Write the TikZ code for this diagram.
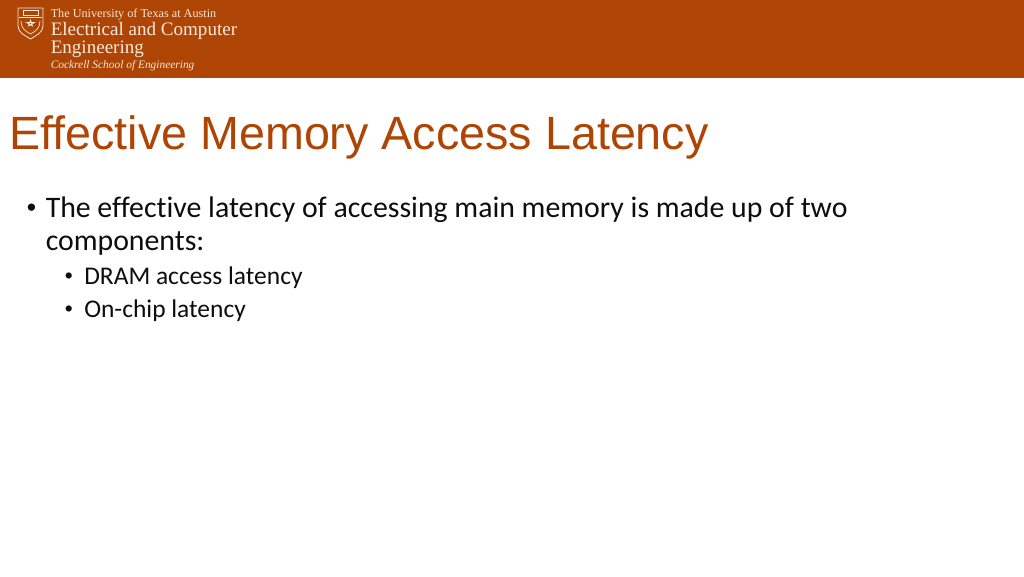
\documentclass[tikz,border=0pt]{standalone}
\usepackage{fontspec}
\setmainfont{Liberation Serif}
\newfontfamily\arialf{Liberation Sans}
\newfontfamily\calib[Ligatures=NoCommon,Kerning=On]{Carlito}
\definecolor{ut}{HTML}{AE4504}
\definecolor{cream}{HTML}{F7E9DC}
\tikzset{hdr/.style={anchor=base west,inner sep=0,text=cream,font=\rmfamily},
body/.style={anchor=base west,inner sep=0,text=black!95}}
\begin{document}
\begin{tikzpicture}[x=1pt,y=-1pt,scale=0.75]
\useasboundingbox (0,0) rectangle (1024,576);
\fill[white] (0,0) rectangle (1024,576);
\fill[ut] (0,0) rectangle (1024,78);
% shield
\draw[cream,line width=0.6pt] (18,8) -- (43,8) -- (43,26) .. controls (43,33) and (35,36) .. (30.5,39) .. controls (26,36) and (18,33) .. (18,26) -- cycle;
\draw[cream,line width=0.4pt] (19,17) -- (42,17);
\draw[cream,line width=0.5pt] (23,10.5) rectangle (38,15);
\draw[cream,line width=0.5pt] (30.5,20) -- (32.5,26) -- (26.5,22.5) -- (34.5,22.5) -- (28.5,26) -- cycle;
\draw[cream,line width=0.5pt] (21,21) .. controls (21,28) and (25,31) .. (30.5,34) .. controls (36,31) and (40,28) .. (40,21);
\node[hdr,font=\fontsize{9.15}{10}\selectfont] (t1) at (50.5,17) {The University of Texas at Austin};
\node[hdr,font=\fontsize{14.3}{14}\selectfont] (t2) at (50.5,35) {Electrical and Computer};
\node[hdr,font=\fontsize{14.3}{14}\selectfont] (t3) at (50.5,53.5) {Engineering};
\node[hdr,font=\itshape\fontsize{8.55}{10}\selectfont] (t4) at (50.5,68) {Cockrell School of Engineering};
\node[anchor=base west,inner sep=0,text=ut,font=\arialf\fontsize{35}{40}\selectfont] (title) at (9,149) {Effective Memory Access Latency};
\node[body,font=\arialf\fontsize{20}{18}\selectfont] (b1) at (26.5,216) {•};
\node[body,font=\calib\fontsize{22.35}{26}\selectfont] (l1) at (45.5,217) {The effective latency of accessing main memory is made up of two};
\node[body,font=\calib\fontsize{22.35}{26}\selectfont] (l2) at (45.5,250) {components:};
\node[body,font=\arialf\fontsize{17}{18}\selectfont] (b2) at (64.5,283) {•};
\node[body,font=\calib\fontsize{19.1}{22}\selectfont] (l3) at (84,284) {DRAM access latency};
\node[body,font=\arialf\fontsize{17}{18}\selectfont] (b3) at (64.5,316) {•};
\node[body,font=\calib\fontsize{19.1}{22}\selectfont] (l4) at (84,317) {On-chip latency};
\end{tikzpicture}
\end{document}
